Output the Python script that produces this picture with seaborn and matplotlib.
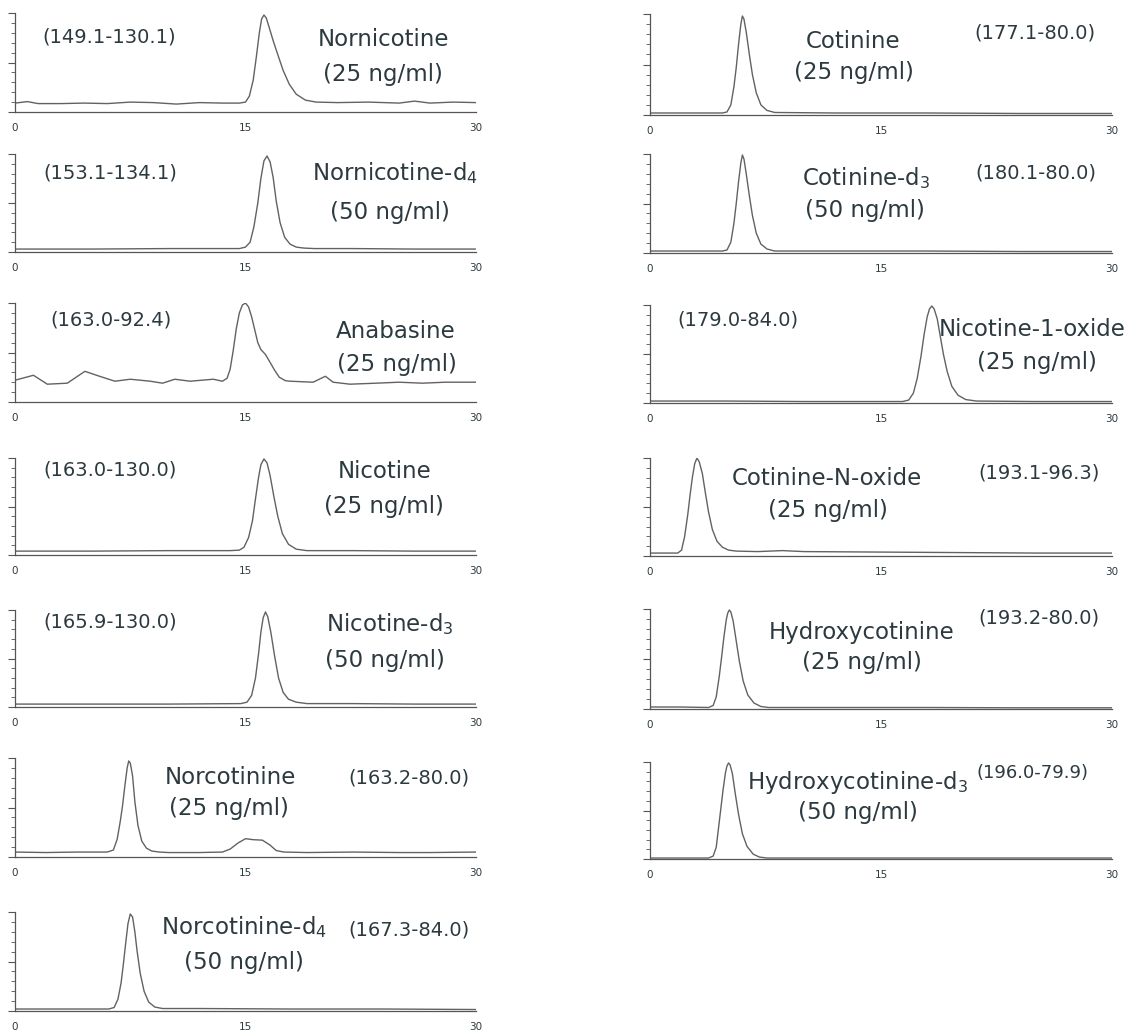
import numpy as np
import pandas as pd
import seaborn as sns
import matplotlib.pyplot as plt

sns.set_theme(style='white')
plt.rcParams['font.family'] = ['DejaVu Sans']
plt.rcParams['mathtext.fontset'] = 'dejavusans'

TEXT = '#2c3a40'
TRACE = '#626262'
AXIS = '#555555'

# Chromatogram traces: retention time (min) and signal (% of panel full scale)
nornicotine_t = [0, 0.8, 1.5, 3, 4.5, 6, 7.5, 9, 10.5, 12, 13.5, 14.6, 15.0, 15.25, 15.5, 15.7, 15.9,
                 16.05, 16.2, 16.35, 16.55, 16.8, 17.1, 17.45, 17.85, 18.3, 18.9, 19.6, 21, 23, 25,
                 26, 27, 28.5, 30]
nornicotine_y = [9, 10.5, 8.5, 8.5, 9, 8.5, 10, 9.5, 8, 9.5, 9, 9, 10, 16, 32, 55, 80,
                 94, 98, 95, 85, 72, 58, 42, 28, 18, 12, 10, 9.5, 10, 9,
                 11, 9, 10, 9.5]

nornicotine_d4_t = [0, 5, 10, 14, 14.6, 15.0, 15.3, 15.55, 15.8, 16.0, 16.2, 16.4, 16.6, 16.8, 17.0,
                    17.25, 17.55, 17.9, 18.3, 18.8, 19.5, 22, 26, 30]
nornicotine_d4_y = [3, 3, 3.5, 3.5, 3.5, 5, 10, 26, 50, 75, 93, 98, 92, 76, 52,
                    30, 15, 8, 5, 4, 3.5, 3.5, 3, 3]

anabasine_t = [0, 1.2, 2.1, 3.4, 4.55, 5.5, 6.5, 7.5, 8.8, 9.6, 10.4, 11.4, 12.9, 13.5, 13.8, 14.0,
               14.2, 14.4, 14.6, 14.8, 15.0, 15.2, 15.4, 15.6, 15.8, 16.0, 16.3, 16.6, 16.9, 17.2,
               17.6, 17.9, 19.4, 20.2, 20.7, 21.8, 23.5, 25, 26.5, 28, 30]
anabasine_y = [22, 27, 18, 19, 31, 26, 21, 23, 21, 19, 23, 21, 23, 21, 24, 33,
               52, 74, 90, 98, 100, 96, 86, 73, 60, 53, 48, 40, 32, 25,
               21.5, 21, 20, 26, 20, 18, 19, 20, 19, 20, 20]

nicotine_t = [0, 5, 10, 14, 14.6, 14.9, 15.2, 15.45, 15.65, 15.85, 16.0, 16.2, 16.4, 16.6, 16.85,
              17.1, 17.4, 17.8, 18.3, 19.0, 22, 26, 30]
nicotine_y = [4, 4, 4.5, 4.5, 5, 8, 18, 35, 58, 80, 93, 99, 95, 82, 60,
              40, 22, 11, 6, 4.5, 4.5, 4, 4]

nicotine_d3_t = [0, 5, 10, 14.7, 15.1, 15.4, 15.65, 15.85, 16.0, 16.15, 16.3, 16.45, 16.65, 16.9,
                 17.15, 17.45, 17.8, 18.3, 19.0, 22, 26, 30]
nicotine_d3_y = [3, 3, 3, 3.5, 5, 12, 30, 55, 77, 92, 98, 93, 77, 52,
                 30, 15, 8, 5, 3.5, 3.5, 3, 3]

norcotinine_t = [0, 2, 4, 6.0, 6.4, 6.65, 6.85, 7.0, 7.15, 7.3, 7.4, 7.5, 7.65, 7.8, 8.0, 8.25, 8.55,
                 8.9, 9.4, 10, 12, 13.5, 14.0, 14.5, 15.0, 15.5, 16.1, 16.6, 17.0, 17.5, 19, 22, 25,
                 27, 30]
norcotinine_y = [5, 4.5, 5, 5, 7, 18, 36, 52, 72, 90, 97, 95, 82, 56, 32, 16, 9,
                 6, 5, 4.5, 4.5, 5, 8, 14, 18.5, 17.5, 17, 12, 6.5, 5, 4.5, 5, 4.5,
                 4.5, 5]

norcotinine_d4_t = [0, 3, 6.1, 6.45, 6.7, 6.9, 7.05, 7.2, 7.35, 7.5, 7.65, 7.8, 7.95, 8.15, 8.4, 8.7,
                    9.1, 9.6, 12, 18, 24, 30]
norcotinine_d4_y = [2, 2, 2, 3.5, 12, 28, 47, 68, 88, 98, 95, 80, 60, 38, 20, 9,
                    4, 2.5, 2.5, 2, 2, 1.5]

cotinine_t = [0, 3, 4.7, 5.0, 5.25, 5.45, 5.6, 5.75, 5.9, 6.0, 6.1, 6.25, 6.45, 6.65, 6.9, 7.2, 7.6,
              8.1, 12, 18, 24, 30]
cotinine_y = [2, 2, 2, 3, 10, 28, 47, 70, 90, 98, 95, 82, 60, 40, 22, 10, 4.5,
              2.5, 2, 2, 1.5, 1.5]

cotinine_d3_t = [0, 3, 4.7, 5.0, 5.25, 5.45, 5.6, 5.75, 5.9, 6.0, 6.1, 6.25, 6.45, 6.65, 6.9, 7.2, 7.6,
                 8.1, 12, 18, 24, 30]
cotinine_d3_y = [2, 2, 2, 3, 11, 30, 50, 72, 91, 99, 95, 80, 58, 38, 20, 9, 4,
                 2, 2, 2, 1.5, 1.5]

nicotine_oxide_t = [0, 5, 10, 15, 16.4, 16.8, 17.1, 17.35, 17.6, 17.8, 18.0, 18.15, 18.3, 18.45,
                    18.65, 18.85, 19.05, 19.3, 19.6, 20.0, 20.5, 21.2, 25, 30]
nicotine_oxide_y = [2, 2, 1.5, 1.5, 1.5, 3, 10, 25, 48, 70, 88, 96, 99, 96,
                    86, 68, 50, 32, 17, 8, 3.5, 2, 1.5, 1.5]

cotinine_n_oxide_t = [0, 1.0, 1.8, 2.05, 2.25, 2.45, 2.6, 2.75, 2.9, 3.05, 3.2, 3.4, 3.6, 3.8, 4.05,
                      4.35, 4.7, 5.1, 5.6, 7, 8.6, 10, 15, 20, 25, 30]
cotinine_n_oxide_y = [3, 3, 3, 6, 20, 42, 62, 80, 94, 100, 96, 84, 64, 45, 27,
                      15, 9, 6, 5, 4.5, 5.5, 4.5, 4, 3.5, 3, 3]

hydroxycotinine_t = [0, 2, 3.8, 4.1, 4.3, 4.5, 4.65, 4.8, 4.95, 5.05, 5.15, 5.25, 5.4, 5.6, 5.8, 6.05,
                     6.35, 6.75, 7.2, 7.7, 12, 18, 24, 30]
hydroxycotinine_y = [2, 2, 1.5, 3.5, 12, 33, 52, 72, 89, 96, 99, 97, 88, 68, 48, 28,
                     14, 6, 2.5, 1.5, 1.5, 1.5, 1.2, 1.2]

hydroxycotinine_d3_t = [0, 2, 3.8, 4.1, 4.3, 4.45, 4.6, 4.75, 4.9, 5.0, 5.1, 5.2, 5.35, 5.55, 5.75,
                        6.0, 6.3, 6.7, 7.1, 7.6, 12, 18, 24, 30]
hydroxycotinine_d3_y = [1, 1, 1, 3, 12, 32, 52, 72, 89, 96, 99, 97, 88, 66, 46,
                        26, 13, 5, 2, 1, 1, 1, 1, 1]

names = ['Nornicotine', 'Nornicotine-d$_4$', 'Anabasine', 'Nicotine', 'Nicotine-d$_3$',
         'Norcotinine', 'Norcotinine-d$_4$', 'Cotinine', 'Cotinine-d$_3$', 'Nicotine-1-oxide',
         'Cotinine-N-oxide', 'Hydroxycotinine', 'Hydroxycotinine-d$_3$']
concs = ['(25 ng/ml)', '(50 ng/ml)', '(25 ng/ml)', '(25 ng/ml)', '(50 ng/ml)',
         '(25 ng/ml)', '(50 ng/ml)', '(25 ng/ml)', '(50 ng/ml)', '(25 ng/ml)',
         '(25 ng/ml)', '(25 ng/ml)', '(50 ng/ml)']
transitions = ['(149.1-130.1)', '(153.1-134.1)', '(163.0-92.4)', '(163.0-130.0)', '(165.9-130.0)',
               '(163.2-80.0)', '(167.3-84.0)', '(177.1-80.0)', '(180.1-80.0)', '(179.0-84.0)',
               '(193.1-96.3)', '(193.2-80.0)', '(196.0-79.9)']
traces = [(nornicotine_t, nornicotine_y), (nornicotine_d4_t, nornicotine_d4_y),
          (anabasine_t, anabasine_y), (nicotine_t, nicotine_y), (nicotine_d3_t, nicotine_d3_y),
          (norcotinine_t, norcotinine_y), (norcotinine_d4_t, norcotinine_d4_y),
          (cotinine_t, cotinine_y), (cotinine_d3_t, cotinine_d3_y),
          (nicotine_oxide_t, nicotine_oxide_y), (cotinine_n_oxide_t, cotinine_n_oxide_y),
          (hydroxycotinine_t, hydroxycotinine_y), (hydroxycotinine_d3_t, hydroxycotinine_d3_y)]

# layout in pixels: axes box (left, right, top, bottom) and text centres
W, H = 1146, 1036
boxes = [(15, 476, 13, 112), (15, 476, 154, 252), (15, 476, 303, 402), (15, 476, 458, 555),
         (15, 476, 610, 707), (15, 476, 758, 857), (15, 476, 912, 1011),
         (650, 1112, 14, 115), (650, 1112, 154, 253), (650, 1112, 305, 403),
         (650, 1112, 458, 556), (650, 1112, 609, 709), (650, 1112, 762, 859)]
name_xy = [(384, 39), (395, 173), (396, 332), (385, 472), (390, 624), (230, 777), (244, 927),
           (853, 42), (866, 178), (1032, 330), (827, 478), (862, 633), (857, 783)]
conc_xy = [(383, 74), (390, 212), (397, 364), (384, 506), (385, 660), (229, 808), (244, 962),
           (854, 72), (865, 210), (1037, 362), (828, 510), (862, 663), (858, 813)]
trans_xy = [(109, 37), (110, 173), (111, 320), (110, 470), (110, 622), (409, 778), (409, 930),
            (1035, 33), (1036, 173), (738, 320), (1039, 473), (1039, 618), (1032, 773)]

fig = plt.figure(figsize=(W / 100, H / 100), dpi=100)
fig.patch.set_facecolor('white')

for i, (t, y) in enumerate(traces):
    l, r, top, bot = boxes[i]
    ax = fig.add_axes([l / W, 1 - bot / H, (r - l) / W, (bot - top) / H])
    df = pd.DataFrame({'time': t, 'signal': y})
    sns.lineplot(data=df, x='time', y='signal', ax=ax, color=TRACE, linewidth=1.0)
    ax.set_xlim(0, 30)
    ax.set_ylim(0, 100)
    ax.set_xlabel('')
    ax.set_ylabel('')
    ax.set_xticks([0, 15, 30])
    ax.set_xticklabels(['0', '15', '30'], fontsize=7.5, color=TEXT)
    ax.set_yticks([0, 50, 100])
    ax.set_yticks(np.arange(0, 101, 10), minor=True)
    ax.set_yticklabels([])
    ax.tick_params(axis='x', length=0, pad=8)
    ax.tick_params(axis='y', which='major', left=True, direction='out', length=5, width=0.8, color=AXIS)
    ax.tick_params(axis='y', which='minor', left=True, direction='out', length=3, width=0.6, color=AXIS)
    sns.despine(ax=ax)
    for s in ['left', 'bottom']:
        ax.spines[s].set_color(AXIS)
        ax.spines[s].set_linewidth(0.9)
    ax.patch.set_alpha(0)

    nx, ny = name_xy[i]
    fig.text(nx / W, 1 - ny / H, names[i], ha='center', va='center', fontsize=16.5, color=TEXT)
    cx, cy = conc_xy[i]
    fig.text(cx / W, 1 - cy / H, concs[i], ha='center', va='center', fontsize=16.5, color=TEXT)
    tx, ty = trans_xy[i]
    fig.text(tx / W, 1 - ty / H, transitions[i], ha='center', va='center',
             fontsize=13 if i == 12 else 14, color=TEXT)

fig.savefig('out.png', dpi=100, facecolor='white')
